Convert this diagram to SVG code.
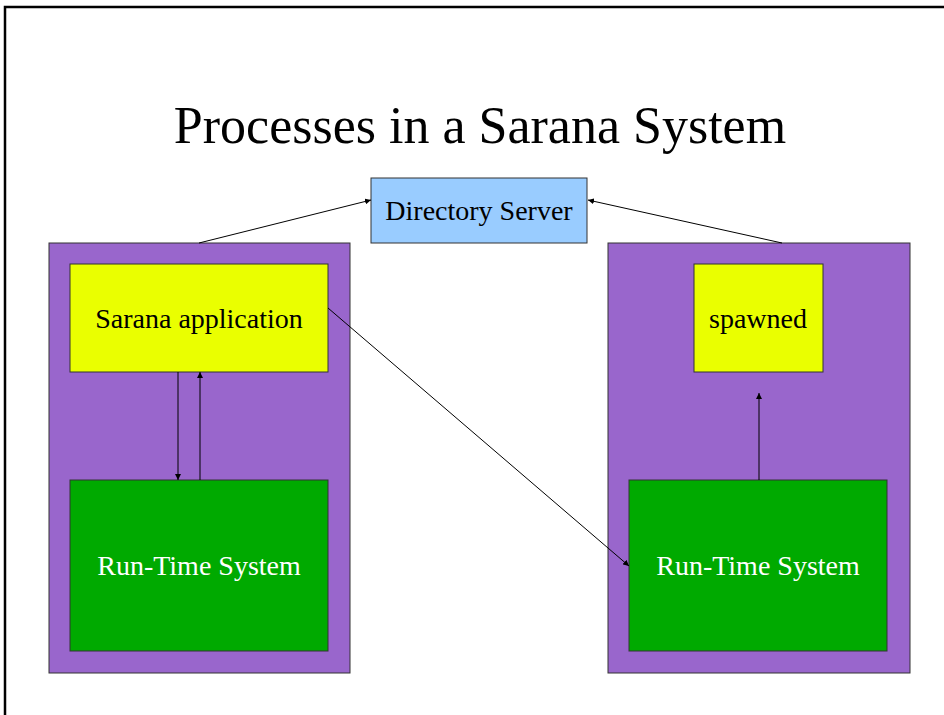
<svg xmlns="http://www.w3.org/2000/svg" width="944" height="715" viewBox="0 0 944 715">
<defs>
<marker id="ah" viewBox="0 0 10 10" refX="10" refY="5" markerWidth="6" markerHeight="6" markerUnits="userSpaceOnUse" orient="auto"><path d="M0,0 L10,5 L0,10 z" fill="#000"/></marker>
<style>
.t{font-family:"Liberation Serif","Times New Roman",serif;text-anchor:middle}
.l{font-size:28px}
.box{stroke:#333;stroke-width:1}
.c{stroke:#000;stroke-width:1;fill:none;marker-end:url(#ah)}
</style>
</defs>
<rect x="0" y="0" width="944" height="715" fill="#fff"/>
<path d="M5,715 V7 H944" fill="none" stroke="#000" stroke-width="2.5"/>
<text class="t" x="480" y="143" font-size="52">Processes in a Sarana System</text>
<g id="proc-left"><rect class="box" x="49" y="243" width="301" height="430" fill="#9966cc"/></g>
<g id="proc-right"><rect class="box" x="608" y="243" width="302" height="430" fill="#9966cc"/></g>
<g id="directory"><rect class="box" x="371" y="178" width="216" height="65" fill="#99ccff"/><text class="t l" x="479" y="220">Directory Server</text></g>
<g id="app"><rect class="box" x="70" y="264" width="258" height="108" fill="#eaff00"/><text class="t l" x="199" y="328">Sarana application</text></g>
<g id="spawned"><rect class="box" x="694" y="264" width="129" height="108" fill="#eaff00"/><text class="t l" x="758" y="328">spawned</text></g>
<g id="rts-left"><rect class="box" x="70" y="480" width="258" height="171" fill="#00aa00"/><text class="t l" x="199" y="575" fill="#fff">Run-Time System</text></g>
<g id="rts-right"><rect class="box" x="629" y="480" width="258" height="171" fill="#00aa00"/><text class="t l" x="758" y="575" fill="#fff">Run-Time System</text></g>
<g id="connectors">
<line class="c" x1="199" y1="243" x2="371" y2="200"/>
<line class="c" x1="782" y1="243" x2="588" y2="200"/>
<line class="c" x1="178" y1="372" x2="178" y2="480"/>
<line class="c" x1="200" y1="480" x2="200" y2="372"/>
<line class="c" x1="328" y1="308" x2="629" y2="566"/>
<line class="c" x1="759" y1="480" x2="759" y2="393"/>
</g>
</svg>
